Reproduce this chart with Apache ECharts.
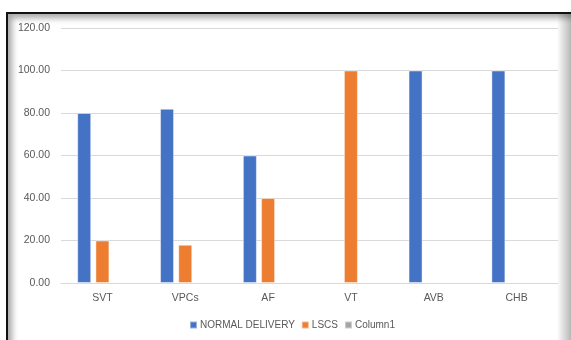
<!DOCTYPE html>
<html>
<head>
<meta charset="utf-8">
<script src="https://cdn.jsdelivr.net/npm/echarts@6/dist/echarts.min.js"></script>
<style>
    html, body { margin: 0; padding: 0; background: #fff; }
    #wrap { position: relative; width: 571px; height: 340px; overflow: hidden; }
    #frame {
        position: absolute; left: 6px; top: 12px; width: 580px; height: 340px;
        border-left: 2px solid #111; border-top: 2px solid #111;
        box-shadow: inset 5px 5px 6px -1px rgba(0,0,0,0.35);
    }
    #rshade {
        position: absolute; left: 557px; top: 14px; width: 14px; height: 326px;
        background: linear-gradient(to right, rgba(0,0,0,0), rgba(0,0,0,0.28));
    }
    #chart { position: absolute; left: 0; top: 0; width: 571px; height: 340px; }
</style>
</head>
<body>
<div id="wrap">
    <div id="frame"></div>
    <div id="rshade"></div>
    <div id="chart"></div>
</div>
<script>
// categories and values
const categories = ['SVT', 'VPCs', 'AF', 'VT', 'AVB', 'CHB'];
const normalDelivery = [80, 82, 60, null, 100, 100];
const lscs = [20, 18, 40, 100, null, null];
const column1 = [null, null, null, null, null, null];

const textColor = '#595959';
const font = 'Liberation Sans, Arial, sans-serif';

const chart = echarts.init(document.getElementById('chart'));

const bar = (name, data, color) => ({
    name: name,
    type: 'bar',
    data: data,
    barWidth: 14,
    barGap: '30%',
    itemStyle: { color: color, borderColor: 'rgba(255,255,255,0.45)', borderWidth: 1 },
    emphasis: { disabled: true }
});

chart.setOption({
    animation: false,
    grid: { left: 61, right: 13, top: 28, bottom: 57 },
    xAxis: {
        type: 'category',
        data: categories,
        axisLine: { lineStyle: { color: '#D9D9D9' } },
        axisTick: { show: false },
        axisLabel: { color: textColor, fontSize: 10.5, fontFamily: font, margin: 10 }
    },
    yAxis: {
        type: 'value',
        min: 0,
        max: 120,
        interval: 20,
        axisLine: { show: false },
        axisTick: { show: false },
        splitLine: { lineStyle: { color: '#D9D9D9' } },
        axisLabel: {
            color: textColor, fontSize: 10.5, fontFamily: font, margin: 11,
            formatter: v => v.toFixed(2)
        }
    },
    legend: {
        bottom: 10,
        left: 189,
        padding: 0,
        itemWidth: 7,
        itemHeight: 7,
        itemGap: 6,
        icon: 'rect',
        textStyle: { color: textColor, fontSize: 10, fontFamily: font, padding: [0, 0, 0, -2] },
        data: ['NORMAL DELIVERY', 'LSCS', 'Column1']
    },
    series: [
        bar('NORMAL DELIVERY', normalDelivery, '#4472C4'),
        bar('LSCS', lscs, '#ED7D31'),
        bar('Column1', column1, '#A5A5A5')
    ]
});
</script>
</body>
</html>
